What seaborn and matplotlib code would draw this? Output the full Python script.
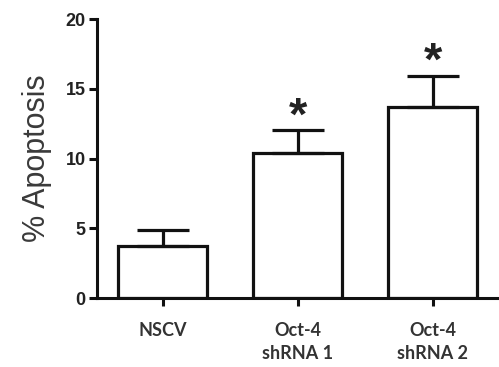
import matplotlib
matplotlib.use("Agg")
import matplotlib.pyplot as plt
import seaborn as sns
import pandas as pd

# values (mean and upper SEM)
groups = ["NSCV", "Oct-4\nshRNA 1", "Oct-4\nshRNA 2"]
means = [3.7, 10.4, 13.7]
sem_up = [1.2, 1.65, 2.25]
stars = ["", "*", "*"]

df = pd.DataFrame({"group": groups, "apoptosis": means})

sns.set_style("ticks")
plt.rcParams["font.family"] = ["Liberation Sans", "DejaVu Sans"]

fig = plt.figure(figsize=(4.99, 3.67), dpi=100)
ax = fig.add_axes([0.194, 0.188, 0.806, 0.76])

sns.barplot(data=df, x="group", y="apoptosis", color="white", edgecolor="#111111",
            linewidth=2.3, width=0.66, errorbar=None, ax=ax)
ax.errorbar(range(len(groups)), means, yerr=[[0] * len(means), sem_up], fmt="none",
            ecolor="#111111", elinewidth=2.3, capsize=19, capthick=2.3)

for i, s in enumerate(stars):
    if s:
        ax.text(i, means[i] + sem_up[i] + 0.9, s, ha="center", va="center",
                fontsize=34, fontweight="bold", color="#222222")

ax.set_xlim(-0.49, 2.49)
ax.set_ylim(0, 20)
ax.set_yticks([0, 5, 10, 15, 20])
ax.set_xlabel("")
ax.set_ylabel("% Apoptosis", fontsize=22, color="#3a3a3a", labelpad=10)

sns.despine(ax=ax)
for sp in ["left", "bottom"]:
    ax.spines[sp].set_linewidth(2.2)
    ax.spines[sp].set_color("#111111")
ax.spines["bottom"].set_bounds(-0.49, 2.49)

ax.tick_params(axis="y", length=6, width=2.2, color="#111111", pad=2)
ax.tick_params(axis="x", length=6, width=2.2, color="#111111", pad=11)
for lab in ax.get_yticklabels():
    lab.set_fontweight("bold")
    lab.set_fontsize(13)
    lab.set_color("#222222")
for lab in ax.get_xticklabels():
    lab.set_family(["Lato", "DejaVu Sans"])
    lab.set_fontweight("bold")
    lab.set_fontsize(13)
    lab.set_color("#333333")
    lab.set_linespacing(1.45)

fig.savefig("out.png", dpi=100)
